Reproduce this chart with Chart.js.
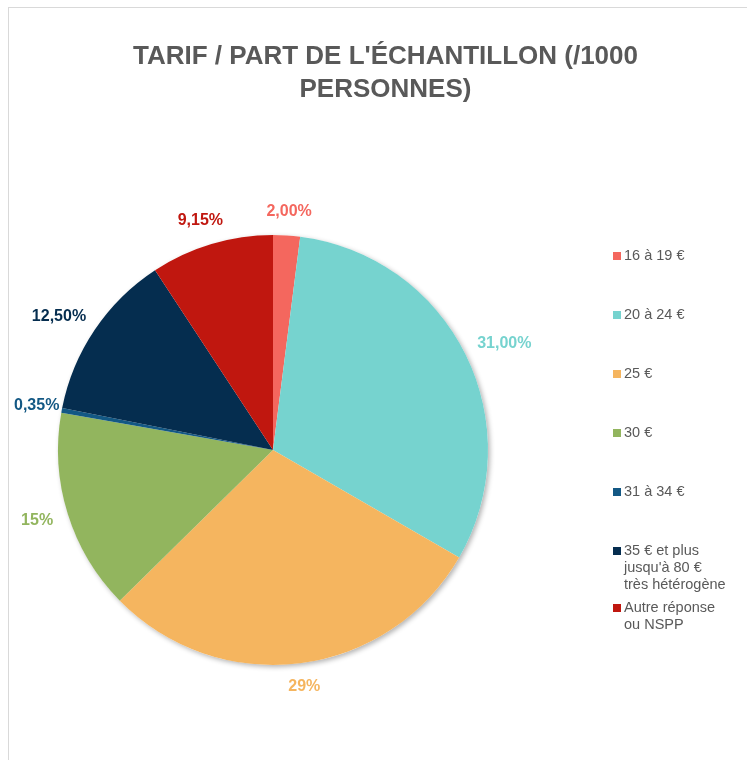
<!DOCTYPE html>
<html>
<head>
<meta charset="utf-8">
<script src="https://cdn.jsdelivr.net/npm/chart.js@4/dist/chart.umd.min.js"></script>
<style>
html, body { margin: 0; padding: 0; overflow: hidden; background: #fff; width: 747px; height: 760px; }
#frame { position: absolute; left: 8px; top: 7px; width: 800px; height: 800px; border-left: 1px solid #d9d9d9; border-top: 1px solid #d9d9d9; }
#chart { position: absolute; left: 0; top: 0; }
#title { position: absolute; left: 0; top: 31px; width: 753px; text-align: center; font: bold 26px 'Liberation Sans', Arial, sans-serif; line-height: 33px; color: #595959; }
#legend { position: absolute; left: 604px; top: 239px; font: 14.5px 'Liberation Sans', Arial, sans-serif; color: #595959; }
.item { position: relative; padding-left: 11px; line-height: 17px; margin-bottom: 42px; white-space: nowrap; }
.item:nth-child(6) { margin-bottom: 6px; }
.box { position: absolute; left: 0; top: 4.5px; width: 8px; height: 8px; }
</style>
</head>
<body>
<div id="frame">
  <canvas id="chart" width="752" height="752"></canvas>
  <div id="title">TARIF / PART DE L'ÉCHANTILLON (/1000<br>PERSONNES)</div>
  <div id="legend"></div>
</div>
<script>
const categories = ['16 à 19 €', '20 à 24 €', '25 €', '30 €', '31 à 34 €',
  ['35 € et plus', "jusqu'à 80 €", 'très hétérogène'], ['Autre réponse', 'ou NSPP']]
const shares = [2, 31, 29, 15, 0.35, 12.5, 9.15]
const shareLabels = ['2,00%', '31,00%', '29%', '15%', '0,35%', '12,50%', '9,15%']
const colors = ['#F4675E', '#76D3CF', '#F5B55F', '#92B55E', '#135884', '#052D4F', '#C0170F']

// shadow under the whole pie + percent labels outside each slice
const sliceLabels = {
  id: 'sliceLabels',
  beforeDatasetsDraw(chart) {
    const arc = chart.getDatasetMeta(0).data[0]
    const ctx = chart.ctx
    ctx.save()
    ctx.shadowColor = 'rgba(0,0,0,0.3)'
    ctx.shadowBlur = 5
    ctx.shadowOffsetX = 2
    ctx.shadowOffsetY = 2
    ctx.fillStyle = '#fff'
    ctx.beginPath()
    ctx.arc(arc.x, arc.y, arc.outerRadius, 0, Math.PI * 2)
    ctx.fill()
    ctx.restore()
  },
  afterDatasetsDraw(chart) {
    const ctx = chart.ctx
    ctx.save()
    ctx.font = 'bold 16px "Liberation Sans", Arial, sans-serif'
    ctx.textAlign = 'center'
    ctx.textBaseline = 'middle'
    chart.getDatasetMeta(0).data.forEach((arc, i) => {
      const p = arc.getProps(['x', 'y', 'startAngle', 'endAngle', 'outerRadius'])
      const mid = (p.startAngle + p.endAngle) / 2
      const cos = Math.cos(mid), sin = Math.sin(mid)
      const r = p.outerRadius + 16
      const hw = ctx.measureText(shareLabels[i]).width / 2
      let x = p.x + cos * r + cos * hw
      const y = p.y + sin * r + sin * 8
      // keep labels inside the chart box
      x = Math.max(x, hw + 5)
      ctx.fillStyle = colors[i]
      ctx.fillText(shareLabels[i], x, y)
    })
    ctx.restore()
  }
}

const chart = new Chart(document.getElementById('chart'), {
  type: 'pie',
  data: {
    labels: categories,
    datasets: [{
      data: shares,
      backgroundColor: colors,
      borderWidth: 0
    }]
  },
  options: {
    responsive: false,
    animation: false,
    layout: { padding: { top: 227, left: 49, right: 273, bottom: 95 } },
    plugins: {
      legend: { display: false },
      tooltip: { enabled: false },
      title: { display: false }
    }
  },
  plugins: [sliceLabels]
})

// legend built from the same arrays
const legend = document.getElementById('legend')
categories.forEach((c, i) => {
  const item = document.createElement('div')
  item.className = 'item'
  const box = document.createElement('span')
  box.className = 'box'
  box.style.background = colors[i]
  item.appendChild(box)
  const lines = Array.isArray(c) ? c : [c]
  lines.forEach((l, j) => {
    if (j) item.appendChild(document.createElement('br'))
    item.appendChild(document.createTextNode(l))
  })
  legend.appendChild(item)
})
</script>
</body>
</html>
